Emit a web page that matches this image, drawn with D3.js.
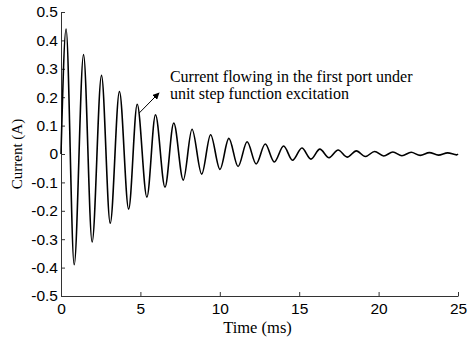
<!DOCTYPE html>
<html>
<head>
<meta charset="utf-8">
<script src="https://cdn.jsdelivr.net/npm/d3@7"></script>
<style>
  body { margin: 0; background: #fff; }
  svg { display: block; }
  .tick text { font-family: "Liberation Sans", Arial, sans-serif; font-size: 15.5px; fill: #000; }
  .lbl { font-family: "Liberation Serif", "Times New Roman", serif; fill: #000; }
</style>
</head>
<body>
<div id="chart"></div>
<script>
// extrema of the damped response (time in ms, current in A)
const peakTimes = [0.32, 1.42, 2.55, 3.68, 4.80, 5.95, 7.10, 8.25, 9.42, 10.57, 11.72, 12.86, 14.02, 15.17, 16.30, 17.45, 18.60, 19.75, 20.90, 22.05, 23.20, 24.35];
const peakValues = [0.44, 0.35, 0.277, 0.22, 0.175, 0.138, 0.109, 0.087, 0.068, 0.055, 0.043, 0.035, 0.028, 0.021, 0.017, 0.014, 0.011, 0.009, 0.007, 0.006, 0.005, 0.004];
const troughTimes = [0.83, 1.96, 3.10, 4.26, 5.41, 6.55, 7.70, 8.86, 10.01, 11.15, 12.29, 13.43, 14.58, 15.74, 16.88, 18.02, 19.17, 20.32, 21.47, 22.62, 23.77, 24.92];
const troughValues = [-0.39, -0.31, -0.244, -0.194, -0.152, -0.117, -0.092, -0.071, -0.054, -0.044, -0.035, -0.028, -0.022, -0.018, -0.013, -0.011, -0.009, -0.007, -0.006, -0.005, -0.004, -0.003];
const startPoint = { t: 0, v: 0 };
const endPoint = { t: 25, v: 0 };

const xTicks = [0, 5, 10, 15, 20, 25];
const yTicks = [-0.5, -0.4, -0.3, -0.2, -0.1, 0, 0.1, 0.2, 0.3, 0.4, 0.5];

const annoLines = ["Current flowing in the first port under", "unit step function excitation"];
const annoPos = { t: 6.86, v: 0.254 };
const arrowFrom = { t: 4.92, v: 0.144 };
const arrowTo = { t: 6.17, v: 0.215 };

const W = 468, H = 340;
const margin = { top: 12, right: 10, bottom: 44, left: 61 };
const width = W - margin.left - margin.right;
const height = H - margin.top - margin.bottom;

// merge peaks and troughs in time order
let points = [startPoint];
peakTimes.forEach((t, i) => points.push({ t: t, v: peakValues[i] }));
troughTimes.forEach((t, i) => points.push({ t: t, v: troughValues[i] }));
points.push(endPoint);
points.sort((a, b) => a.t - b.t);

const svg = d3.select("#chart").append("svg")
  .attr("width", W)
  .attr("height", H);

svg.append("defs").append("marker")
  .attr("id", "head")
  .attr("viewBox", "0 0 10 10")
  .attr("refX", 9).attr("refY", 5)
  .attr("markerWidth", 7).attr("markerHeight", 7)
  .attr("markerUnits", "userSpaceOnUse")
  .attr("orient", "auto")
  .append("path")
  .attr("d", "M0,0 L10,5 L0,10 Z")
  .attr("fill", "#000");

const g = svg.append("g")
  .attr("transform", `translate(${margin.left},${margin.top})`);

const x = d3.scaleLinear().domain([0, 25]).range([0, width]);
const y = d3.scaleLinear().domain([-0.5, 0.5]).range([height, 0]);

const fmt = d => d === 0 ? "0" : d3.format(".1f")(d).replace("\u2212", "-");

// axes, ticks pointing inward
const xAxis = d3.axisBottom(x).tickValues(xTicks).tickSizeInner(-4).tickSizeOuter(0).tickPadding(7).tickFormat(d => d);
const yAxis = d3.axisLeft(y).tickValues(yTicks).tickSizeInner(-4).tickSizeOuter(0).tickPadding(3).tickFormat(fmt);

g.append("g")
  .attr("class", "x axis")
  .attr("transform", `translate(0,${height})`)
  .call(xAxis);

g.append("g")
  .attr("class", "y axis")
  .call(yAxis);

g.selectAll(".axis path, .axis line").attr("stroke", "#333").attr("stroke-width", 1);

// response curve
const line = d3.line()
  .x(d => x(d.t))
  .y(d => y(d.v))
  .curve(d3.curveMonotoneX);

g.append("path")
  .datum(points)
  .attr("d", line)
  .attr("fill", "none")
  .attr("stroke", "#000")
  .attr("stroke-width", 1.6)
  .attr("stroke-linejoin", "round");

// annotation
g.append("line")
  .attr("x1", x(arrowFrom.t)).attr("y1", y(arrowFrom.v))
  .attr("x2", x(arrowTo.t)).attr("y2", y(arrowTo.v))
  .attr("stroke", "#000")
  .attr("stroke-width", 1)
  .attr("marker-end", "url(#head)");

g.append("text")
  .attr("class", "lbl")
  .attr("x", x(annoPos.t))
  .attr("y", y(annoPos.v))
  .style("font-size", "16px")
  .selectAll("tspan")
  .data(annoLines)
  .enter().append("tspan")
  .attr("x", x(annoPos.t))
  .attr("dy", (d, i) => i === 0 ? 0 : 17.5)
  .text(d => d);

// axis labels
svg.append("text")
  .attr("class", "lbl")
  .attr("x", margin.left + x(12.5) - 2)
  .attr("y", 333)
  .attr("text-anchor", "middle")
  .style("font-size", "16.5px")
  .text("Time (ms)");

svg.append("text")
  .attr("class", "lbl")
  .attr("transform", `translate(22,${margin.top + y(0)}) rotate(-90)`)
  .attr("text-anchor", "middle")
  .style("font-size", "15px")
  .text("Current (A)");
</script>
</body>
</html>
